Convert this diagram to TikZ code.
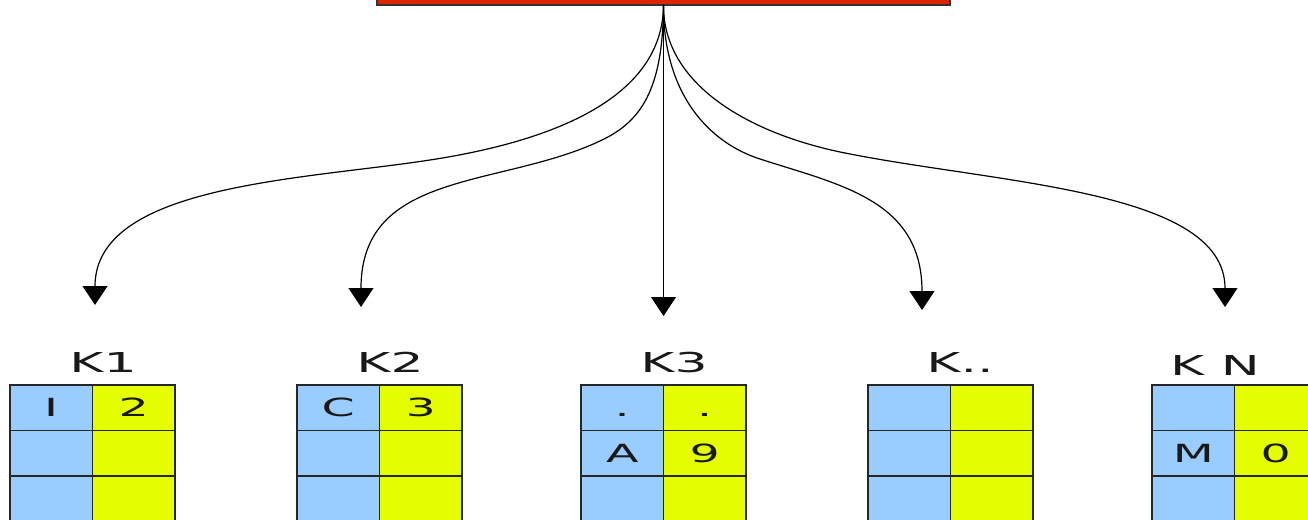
\documentclass[tikz,border=0pt]{standalone}
\usepackage{fontspec}
\setmainfont{DejaVu Sans}
\usepackage{graphicx}
\usetikzlibrary{arrows.meta}
\definecolor{boxred}{RGB}{221,35,0}
\definecolor{cblue}{RGB}{153,204,255}
\definecolor{cyel}{RGB}{230,255,0}
\newcommand{\stretchtxt}[1]{\scalebox{1.9}[1]{#1}}
\newcommand{\mktable}[6]{%
  \node[cb] (#1-1L) at (#2,385) {\stretchtxt{#3}};
  \node[cy] (#1-1R) at (#2+82.5,385) {\stretchtxt{#4}};
  \node[cb] (#1-2L) at (#2,430.5) {\stretchtxt{#5}};
  \node[cy] (#1-2R) at (#2+82.5,430.5) {\stretchtxt{#6}};
  \node[cb] (#1-3L) at (#2,476) {};
  \node[cy] (#1-3R) at (#2+82.5,476) {};
  \node[cb] (#1-4L) at (#2,521.5) {};
  \node[cy] (#1-4R) at (#2+82.5,521.5) {};
}
\begin{document}
\begin{tikzpicture}[x=1pt,y=-1pt,
  cell/.style={draw=black!85, line width=1.8pt, minimum width=82.5pt, minimum height=45.5pt,
    inner sep=0pt, outer sep=0pt, anchor=north west, text height=18.2pt, text depth=0pt,
    font=\fontsize{25}{30}\selectfont, text=black!90},
  cb/.style={cell, fill=cblue},
  cy/.style={cell, fill=cyel},
  lab/.style={anchor=base, inner sep=0pt, font=\fontsize{27.4}{32}\selectfont, text=black!90},
  conn/.style={line width=1.2pt, -{Triangle[width=25pt,length=19pt]}}]
\useasboundingbox (0,0) rectangle (1308,519);
\clip (0,0) rectangle (1308,519);
% top box
\node[draw=black!80, line width=2pt, fill=boxred, minimum width=573pt, minimum height=30pt,
  anchor=south, inner sep=0pt, outer sep=0pt] (src) at (663.5,5) {};
% arrow ends
\coordinate (a1) at (95,305);
\coordinate (a2) at (361,307);
\coordinate (a3) at (663.5,316);
\coordinate (a4) at (922,310);
\coordinate (a5) at (1225,307);
% connectors
\draw[conn] (src.south) .. controls (663,95) and (560,140) .. (430,160)
  .. controls (300,180) and (95,185) .. (a1);
\draw[conn] (src.south) .. controls (663,90) and (641,122) .. (600,141)
  .. controls (500,188) and (361,170) .. (a2);
\draw[conn] (src.south) -- (a3);
\draw[conn] (src.south) .. controls (663,95) and (710,143) .. (760,159)
  .. controls (840,185) and (922,200) .. (a4);
\draw[conn] (src.south) .. controls (663,85) and (750,134) .. (845,153)
  .. controls (1000,184) and (1225,190) .. (a5);
% labels
\node[lab] (l1) at (103,372) {\stretchtxt{K1}};
\node[lab] (l2) at (390,372) {\stretchtxt{K2}};
\node[lab] (l3) at (674,372) {\stretchtxt{K3}};
\node[lab] (l4) at (960,372) {\stretchtxt{K..}};
\node[lab] (l5) at (1215,375) {\stretchtxt{K N}};
% tables
\mktable{t1}{10}{I}{2}{}{}
\mktable{t2}{297}{C}{3}{}{}
\mktable{t3}{581}{.}{.}{A}{9}
\mktable{t4}{868}{}{}{}{}
\mktable{t5}{1152}{}{}{M}{0}
\end{tikzpicture}
\end{document}
